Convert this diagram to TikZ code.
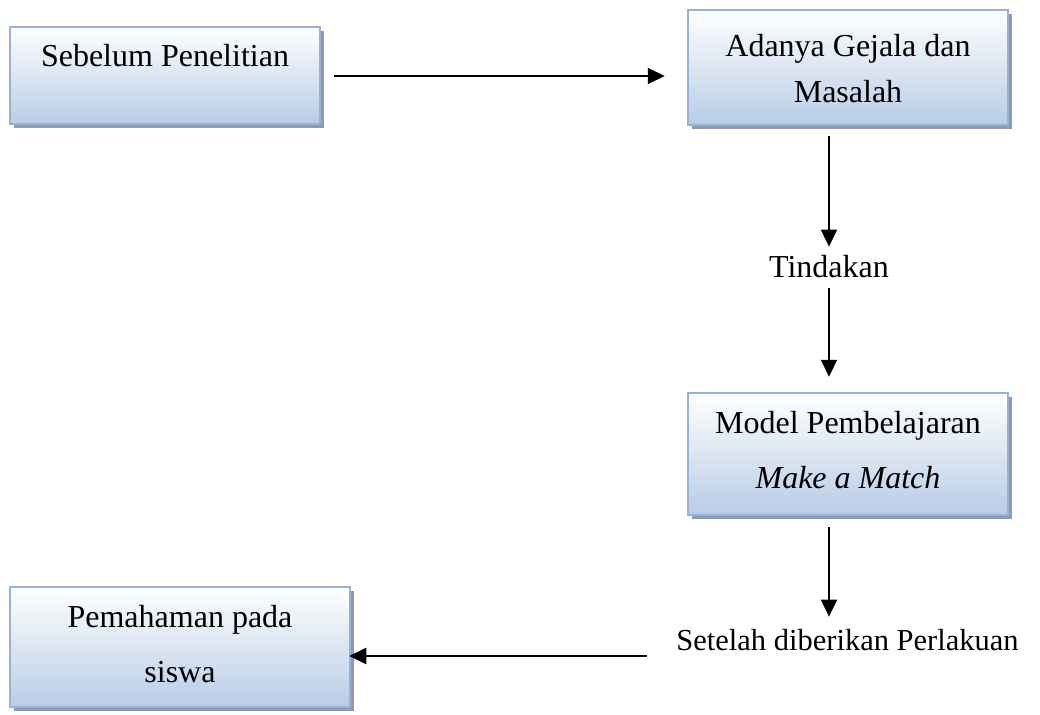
\documentclass[tikz,border=0pt]{standalone}
\usepackage{fontspec}
\setmainfont{Liberation Serif}
\usetikzlibrary{arrows.meta,shadows}
\definecolor{boxborder}{RGB}{149,179,215}
\definecolor{boxbottom}{RGB}{184,204,230}
\definecolor{shadowc}{RGB}{141,154,176}
\tikzset{
  box/.style={draw=boxborder, line width=2.5pt, top color=white, bottom color=boxbottom,
    minimum width=#1, inner sep=0pt, rectangle,
    drop shadow={shadow xshift=4pt, shadow yshift=-4pt, fill=shadowc, opacity=1}},
  lbl/.style={font=\fontsize{32}{46}\selectfont, align=center, inner sep=0pt},
  arr/.style={line width=2pt, -{Triangle[length=17pt,width=16pt]}},
}
\begin{document}
\begin{tikzpicture}[x=1pt,y=-1pt]
\useasboundingbox (0,0) rectangle (1040,714);
% boxes
\node[box=310pt, minimum height=97pt] (b1) at (165,75.5) {};
\node[box=320pt, minimum height=115pt] (b2) at (848,67.5) {};
\node[box=320pt, minimum height=122pt] (b3) at (848,454) {};
\node[box=340pt, minimum height=120pt] (b4) at (180,647) {};
% texts
\node[lbl, anchor=base] (t1) at (165,67) {Sebelum Penelitian};
\node[lbl, anchor=base] (t2a) at (848,57) {Adanya Gejala dan};
\node[lbl, anchor=base] (t2b) at (848,103) {Masalah};
\node[lbl, anchor=base] (t3a) at (848,433) {Model Pembelajaran};
\node[lbl, anchor=base] (t3b) at (848,488) {\itshape Make a Match};
\node[lbl, anchor=base] (t4a) at (180,627) {Pemahaman pada};
\node[lbl, anchor=base] (t4b) at (180,682) {siswa};
\node[lbl, anchor=base] (tind) at (829,277) {Tindakan};
\node[lbl, anchor=base, font=\fontsize{30.5}{44}\selectfont] (set) at (847.5,650) {Setelah diberikan Perlakuan};
% connectors
\draw[arr, shorten <=13pt, shorten >=22pt] (b1.east |- 0,76) -- (b2.west |- 0,76);
\draw[arr, shorten <=10pt, shorten >=8pt] (b2.south -| tind) -- (tind.north);
\draw[arr, shorten <=10pt, shorten >=15pt] (tind.south) -- (b3.north -| tind);
\draw[arr, shorten <=11pt, shorten >=12pt] (b3.south -| tind) -- (set.north -| tind);
\draw[arr, shorten <=29pt, shorten >=-2pt] (set.west |- 0,656) -- (b4.east |- 0,656);
\end{tikzpicture}
\end{document}
